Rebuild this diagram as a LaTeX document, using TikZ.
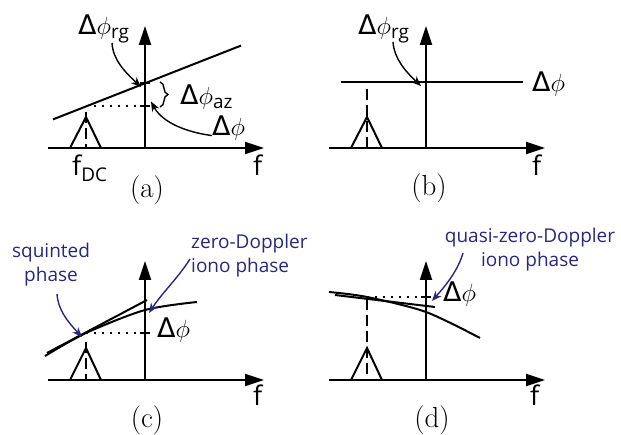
\documentclass[tikz,border=0pt]{standalone}
\usepackage{amsmath}
\usepackage{fontspec}
\setsansfont{Open Sans}
\newfontfamily\deltafont{DejaVu Sans}
\usepackage{tikz}
\usetikzlibrary{arrows.meta,decorations.pathreplacing}

\definecolor{ionoblue}{RGB}{40,40,125}
\newcommand{\dphi}{{\deltafont Δ}$\phi$}

\begin{document}
\begin{tikzpicture}[
    x=1pt, y=-1pt,
    axis/.style={line width=2pt, -{Triangle[length=19pt,width=12pt]}},
    phase/.style={line width=2pt},
    tickmark/.style={line width=2pt},
    guide/.style={line width=2pt, dash pattern=on 2pt off 6pt},
    centre/.style={line width=2pt, dash pattern=on 11pt off 5pt},
    beam/.style={line width=2pt, line join=miter},
    callout/.style={line width=1.4pt, -{Stealth[length=10pt,width=8pt]}},
    bluecall/.style={callout, draw=ionoblue},
    lbl/.style={font=\sffamily\fontsize{27}{31}\selectfont, inner sep=0pt},
    note/.style={font=\sffamily\fontsize{19}{24}\selectfont, text=ionoblue, inner sep=0pt},
    captext/.style={font=\rmfamily\fontsize{29}{33}\selectfont, inner sep=0pt}
]
\useasboundingbox (0,0) rectangle (621,435);

% (a) linear phase, squinted
\coordinate (ah0) at (48,148);  \coordinate (ah1) at (264,148);
\coordinate (av0) at (145,148); \coordinate (av1) at (145,26);
\coordinate (aline0) at (53,119.4); \coordinate (aline1) at (241,45.6);
\coordinate (arg) at (145,83);  \coordinate (adc) at (86,106.5);
\coordinate (aaz) at (145,106.5);
\draw[axis] (ah0) -- (ah1);
\draw[axis] (av0) -- (av1);
\draw[phase] (aline0) -- (aline1);
\draw[tickmark] ([xshift=-5pt]arg) -- ([xshift=5pt]arg);
\draw[tickmark] ([xshift=-5pt]aaz) -- ([xshift=5pt]aaz);
\draw[guide] (adc) -- (aaz);
\draw[beam] (70,148) -- (86,117) -- (101,148);
\draw[centre] (86,112) -- (86,148);
\draw[decorate, decoration={brace, amplitude=8pt}, line width=1.4pt] (160,82) -- (160,107);
\node[lbl, anchor=base west] (rga) at (78,35) {\dphi$_{\textsf{rg}}$};
\node[lbl, anchor=base west] (aza) at (180,105) {\dphi$_{\textsf{az}}$};
\node[lbl, anchor=base west] (dpa) at (212,136) {\dphi};
\node[lbl, anchor=base west] (fdc) at (72,176) {f$_{\textsf{DC}}$};
\node[lbl, anchor=base west] (fa) at (253,176) {f};
\node[captext] (capa) at (147,190) {(a)};
\draw[callout] (112,43) .. controls (113,60) and (125,72) .. ([shift={(-4pt,-4pt)}]arg);
\draw[callout] ([yshift=-7pt]dpa.west) .. controls (185,132) and (162,122) .. ([shift={(6pt,5pt)}]aaz);

% (b) zero-Doppler phase
\coordinate (bh0) at (329,148);  \coordinate (bh1) at (545,148);
\coordinate (bv0) at (426,148);  \coordinate (bv1) at (426,26);
\coordinate (bline0) at (341,82); \coordinate (bline1) at (523,82);
\coordinate (brg) at (426,82);
\draw[axis] (bh0) -- (bh1);
\draw[axis] (bv0) -- (bv1);
\draw[phase] (bline0) -- (bline1);
\draw[beam] (351,148) -- (367,117) -- (382,148);
\draw[centre] (367,89) -- (367,148);
\node[lbl, anchor=base west] (rgb) at (358,35) {\dphi$_{\textsf{rg}}$};
\node[lbl, anchor=base west] (dpb) at (532,92) {\dphi};
\node[lbl, anchor=base west] (fb) at (532,176) {f};
\node[captext] (capb) at (429,188) {(b)};
\draw[callout] (393,42) .. controls (394,58) and (405,71) .. ([shift={(-5pt,-4pt)}]brg);

% (c) dispersive phase, squinted
\coordinate (ch0) at (48,380);  \coordinate (ch1) at (264,380);
\coordinate (cv0) at (145,380); \coordinate (cv1) at (145,261);
\coordinate (cdc) at (86,333);  \coordinate (cdp) at (145,333);
\coordinate (ctan0) at (47,353); \coordinate (ctan1) at (147,300);
\coordinate (czd) at (145,310);
\draw[axis] (ch0) -- (ch1);
\draw[axis] (cv0) -- (cv1);
\draw[phase] plot[smooth] coordinates {(45,356) (86,333) (145,310) (197,302)};
\draw[phase] (ctan0) -- (ctan1);
\draw[tickmark] ([xshift=-5pt]cdp) -- ([xshift=5pt]cdp);
\draw[guide] (cdc) -- (cdp);
\draw[beam] (70,380) -- (86,348) -- (101,380);
\draw[centre] (86,342) -- (86,380);
\node[note, align=center] (sq) at (51,265) {squinted\\phase};
\node[note, align=left, anchor=west] (zd) at (191,256) {zero-Doppler\\iono phase};
\node[lbl, anchor=base west] (dpc) at (157,338) {\dphi};
\node[lbl, anchor=base west] (fc) at (253,405) {f};
\node[captext] (capc) at (147,420) {(c)};
\draw[bluecall] (57,294) .. controls (58,310) and (68,322) .. ([shift={(-4pt,-4pt)}]cdc);
\draw[bluecall] (190,259) .. controls (178,278) and (162,293) .. ([shift={(4pt,-3pt)}]czd);

% (d) dispersive phase, zero-Doppler
\coordinate (dh0) at (329,380);  \coordinate (dh1) at (545,380);
\coordinate (dv0) at (426,380);  \coordinate (dv1) at (426,261);
\coordinate (ddc) at (367,297);  \coordinate (ddp) at (426,297);
\coordinate (dtan0) at (335,295); \coordinate (dtan1) at (435,307);
\draw[axis] (dh0) -- (dh1);
\draw[axis] (dv0) -- (dv1);
\draw[phase] plot[smooth] coordinates {(329,292) (367,297) (426,312) (480,338)};
\draw[phase] (dtan0) -- (dtan1);
\draw[tickmark] ([xshift=-5pt]ddp) -- ([xshift=5pt]ddp);
\draw[guide] (ddc) -- (ddp);
\draw[beam] (351,380) -- (367,348) -- (382,380);
\draw[centre] (367,299) -- (367,380);
\node[note, align=center] (qzd) at (530,250) {quasi-zero-Doppler\\iono phase};
\node[lbl, anchor=base west] (dpd) at (443,302) {\dphi};
\node[lbl, anchor=base west] (fd) at (530,405) {f};
\node[captext] (capd) at (432,420) {(d)};
\draw[bluecall] (463,253) .. controls (458,270) and (447,284) .. ([shift={(6pt,-4pt)}]ddp);
\end{tikzpicture}
\end{document}
